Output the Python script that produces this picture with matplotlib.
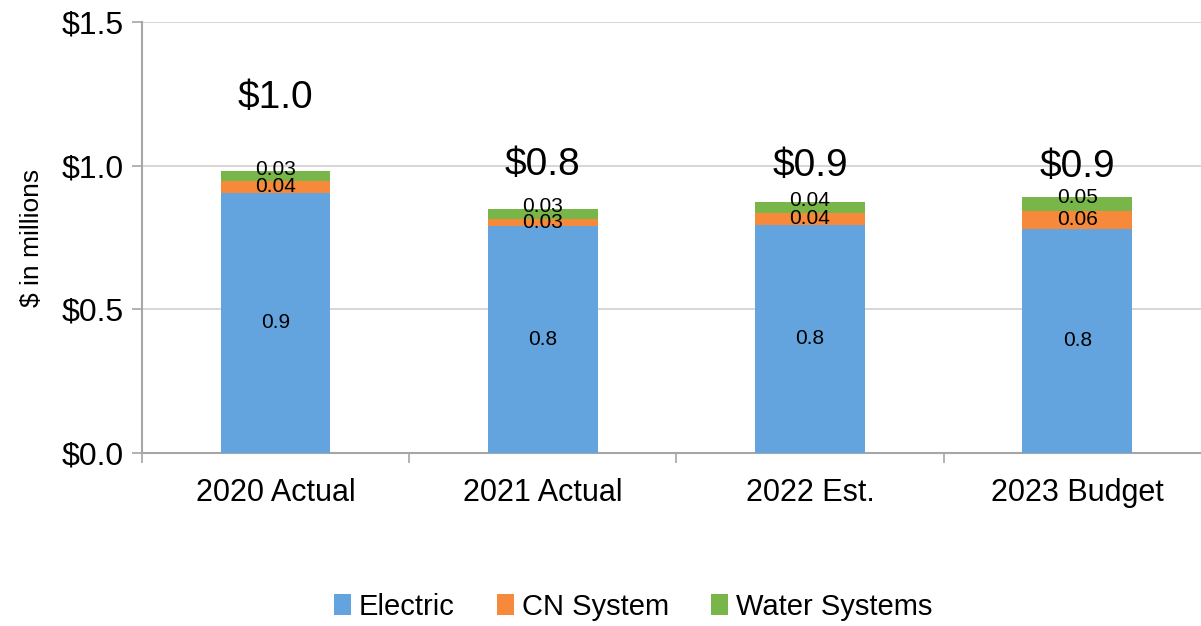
import numpy as np
import matplotlib.pyplot as plt

plt.rcParams['font.family'] = ['Liberation Sans', 'DejaVu Sans']

# data ($ in millions)
categories = ['2020 Actual', '2021 Actual', '2022 Est.', '2023 Budget']
electric = [0.905, 0.790, 0.794, 0.780]
cn_system = [0.042, 0.025, 0.041, 0.062]
water = [0.034, 0.035, 0.039, 0.049]
electric_labels = ['0.9', '0.8', '0.8', '0.8']
cn_labels = ['0.04', '0.03', '0.04', '0.06']
water_labels = ['0.03', '0.03', '0.04', '0.05']
total_labels = ['$1.0', '$0.8', '$0.9', '$0.9']

blue = '#64A4DE'
orange = '#F7893A'
green = '#79B64A'
grey = '#A6A6A6'

fig = plt.figure(figsize=(12.01, 6.26), dpi=100)
ax = fig.add_axes([0.1182, 0.2764, 0.890, 0.6885])

x = np.arange(len(categories))
w = 0.41
e = np.array(electric)
c = np.array(cn_system)
wt = np.array(water)

ax.bar(x, e, w, color=blue, label='Electric', zorder=3)
ax.bar(x, c, w, bottom=e, color=orange, label='CN System', zorder=3)
ax.bar(x, wt, w, bottom=e + c, color=green, label='Water Systems', zorder=3)

# segment labels (the two small ones overlap on 2021, as in the original)
for i in range(len(x)):
    ax.text(x[i], e[i] / 2, electric_labels[i], ha='center', va='center', fontsize=15, zorder=4)
    ax.text(x[i], e[i] + c[i] / 2, cn_labels[i], ha='center', va='center', fontsize=15, zorder=4)
    ax.annotate(water_labels[i], (x[i], e[i] + c[i] + wt[i] / 2), xytext=(0, 5),
                textcoords='offset points', ha='center', va='center', fontsize=15, zorder=4)

# totals above bars (first one sits higher in the original)
total_y = [1.237, 1.003, 1.0, 0.997]
for i in range(len(x)):
    ax.text(x[i], total_y[i], total_labels[i], ha='center', va='center', fontsize=28)

ax.set_ylim(0, 1.5)
ax.set_xlim(-0.5, 3.5)
ax.set_yticks([0, 0.5, 1.0, 1.5])
ax.set_yticklabels(['$0.0', '$0.5', '$1.0', '$1.5'], fontsize=23)
ax.set_xticks(x)
ax.set_xticklabels(categories, fontsize=22)
ax.set_xticks(np.arange(-0.5, 3.6, 1), minor=True)
ax.tick_params(axis='x', which='major', length=0, pad=18)
ax.tick_params(axis='x', which='minor', length=7, color=grey, width=1.2)
ax.tick_params(axis='y', length=7, color=grey, width=1.2, pad=6)

ax.grid(axis='y', color='#D0D0D0', linewidth=1.2, zorder=0)
for s in ['top', 'right']:
    ax.spines[s].set_visible(False)
for s in ['left', 'bottom']:
    ax.spines[s].set_color(grey)
    ax.spines[s].set_linewidth(1.5)

ax.set_ylabel('$ in millions', fontsize=19)
ax.yaxis.set_label_coords(-0.092, 0.5)

fig.legend(loc='center', bbox_to_anchor=(0.527, 0.031), ncol=3, frameon=False,
           fontsize=21, handlelength=0.6, handleheight=0.7, handletextpad=0.25,
           columnspacing=1.45)

plt.savefig('out.png', dpi=100)
